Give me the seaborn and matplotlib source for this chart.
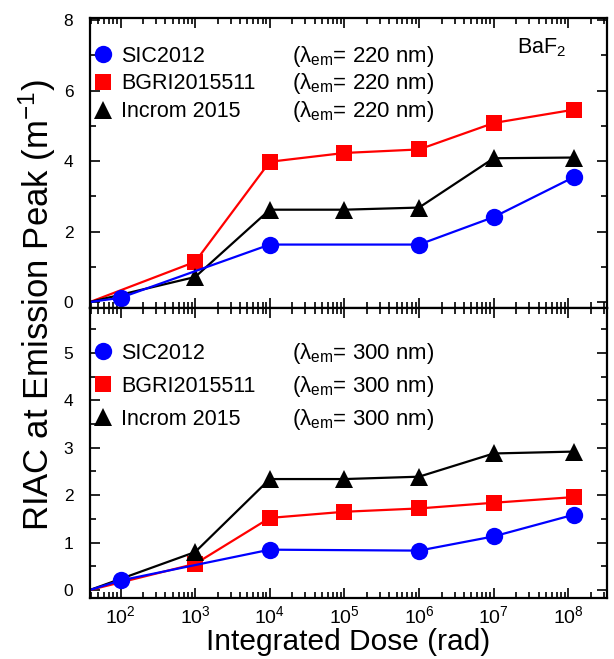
import numpy as np
import matplotlib
matplotlib.use("Agg")
import matplotlib.pyplot as plt
import seaborn as sns
from matplotlib.lines import Line2D
from matplotlib.ticker import LogLocator, MultipleLocator, NullFormatter

# Dados (dose integrada em rad, RIAC em m^-1)
# as linhas partem da borda esquerda do eixo com RIAC = 0
DOSE_INICIO = 39
dose_sic = [DOSE_INICIO, 1e2, 1e4, 1e6, 1e7, 1.2e8]
dose_outros = [DOSE_INICIO, 1e3, 1e4, 1e5, 1e6, 1e7, 1.2e8]

sic_220 = [0, 0.12, 1.63, 1.63, 2.41, 3.55]
bgri_220 = [0, 1.14, 3.98, 4.23, 4.33, 5.08, 5.46]
incrom_220 = [0, 0.71, 2.62, 2.62, 2.68, 4.08, 4.10]

sic_300 = [0, 0.20, 0.85, 0.83, 1.13, 1.59]
bgri_300 = [0, 0.55, 1.52, 1.65, 1.72, 1.84, 1.96]
incrom_300 = [0, 0.80, 2.34, 2.34, 2.39, 2.88, 2.92]

nomes = ["SIC2012", "BGRI2015511", "Incrom 2015"]
comprimentos = ["220", "300"]

cores = ["blue", "red", "black"]
marcadores = ["o", "s", "^"]
tamanhos = [12.5, 12, 13]

sns.set_style("ticks")
plt.rcParams["font.family"] = ["Liberation Sans", "DejaVu Sans"]
plt.rcParams["mathtext.fontset"] = "custom"
plt.rcParams["mathtext.rm"] = "Liberation Sans"
plt.rcParams["mathtext.it"] = "Liberation Sans:italic"
plt.rcParams["mathtext.bf"] = "Liberation Sans:bold"
plt.rcParams["mathtext.default"] = "regular"
for chave in ["text.color", "axes.labelcolor", "xtick.color", "ytick.color", "axes.edgecolor"]:
    plt.rcParams[chave] = "black"

fig = plt.figure(figsize=(6.14, 6.59), dpi=100)
esq, larg = 90 / 614, 517 / 614
ax_sup = fig.add_axes([esq, 1 - 308 / 659, larg, 290 / 659])
ax_inf = fig.add_axes([esq, 1 - 598 / 659, larg, 290 / 659])


def desenha_painel(ax, series, ordem):
    ax.set_xscale("log")
    for i in ordem:
        dose, valores = series[i]
        sns.lineplot(
            x=dose, y=valores, ax=ax, color=cores[i], linewidth=1.6,
            marker=marcadores[i], markersize=tamanhos[i],
            markevery=list(range(1, len(dose))),
            markeredgecolor=cores[i], markeredgewidth=0,
            estimator=None, sort=False, legend=False,
        )


# SIC por último, fica por cima dos outros marcadores
ordem = [1, 2, 0]
desenha_painel(ax_sup, [(dose_sic, sic_220), (dose_outros, bgri_220), (dose_outros, incrom_220)], ordem)
desenha_painel(ax_inf, [(dose_sic, sic_300), (dose_outros, bgri_300), (dose_outros, incrom_300)], ordem)

ax_sup.set_ylim(-0.17, 8.06)
ax_sup.yaxis.set_major_locator(MultipleLocator(2))
ax_sup.yaxis.set_minor_locator(MultipleLocator(1))
ax_inf.set_ylim(-0.17, 5.95)
ax_inf.yaxis.set_major_locator(MultipleLocator(1))
ax_inf.yaxis.set_minor_locator(MultipleLocator(0.5))

for ax in [ax_sup, ax_inf]:
    ax.set_xlim(39, 3.3e8)
    ax.set_xticks(10.0 ** np.arange(2, 9))
    ax.xaxis.set_minor_locator(LogLocator(base=10, subs=range(2, 10), numticks=12))
    ax.xaxis.set_minor_formatter(NullFormatter())
    ax.tick_params(which="both", direction="in", top=True, right=True, width=1.2)
    ax.tick_params(which="major", length=7)
    ax.tick_params(which="minor", length=4)
    ax.tick_params(axis="y", labelsize=12.5, pad=12)
    ax.tick_params(axis="x", labelsize=14, pad=5)
    for sp in ax.spines.values():
        sp.set_linewidth(1.6)
    ax.set_xlabel("")
    ax.set_ylabel("")

ax_sup.tick_params(axis="x", labelbottom=False)
ax_inf.set_xlabel("Integrated Dose (rad)", fontsize=21.5, labelpad=1)
fig.text(37 / 614, 1 - 305 / 659, "RIAC at Emission Peak (m$^{-1}$)",
         rotation=90, ha="center", va="center", fontsize=25)

ax_sup.text(0.826, 0.879, "BaF$_2$", transform=ax_sup.transAxes,
            fontsize=15.5, ha="left", va="baseline")

# Legendas: marcador + nome, e a coluna do comprimento de onda ao lado
handles = [Line2D([], [], ls="none", marker=marcadores[i], color=cores[i],
                  markersize=tamanhos[i], markeredgewidth=0) for i in range(3)]
legendas = []
for ax, topo, espaco in [(ax_sup, 0.905, 0.32), (ax_inf, 0.881, 0.56)]:
    leg = ax.legend(handles, nomes, loc="upper left", bbox_to_anchor=(0.0085, topo),
                    frameon=False, fontsize=15.5, handlelength=0.8, handletextpad=0.45,
                    labelspacing=espaco, borderpad=0, borderaxespad=0, numpoints=1)
    legendas.append(leg)

fig.canvas.draw()
renderer = fig.canvas.get_renderer()
for ax, leg, comp in zip([ax_sup, ax_inf], legendas, comprimentos):
    for t in leg.get_texts():
        bb = t.get_window_extent(renderer)
        _, _, desc = renderer.get_text_width_height_descent("lp", t.get_fontproperties(), ismath=False)
        y_base = ax.transAxes.inverted().transform((0, bb.y0 + desc))[1]
        ax.text(0.391, y_base, f"(λ$_{{em}}$= {comp} nm)", transform=ax.transAxes,
                fontsize=16, ha="left", va="baseline")

fig.savefig("out.png", dpi=100)
